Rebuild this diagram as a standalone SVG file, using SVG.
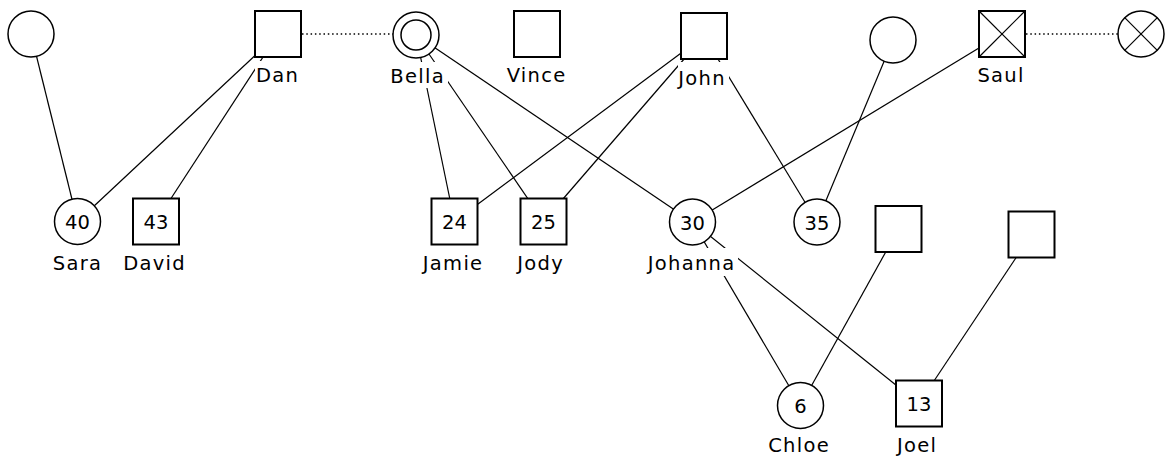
<svg xmlns="http://www.w3.org/2000/svg" width="1166" height="457" viewBox="0 0 1166 457">
<style>
.bg{fill:#fff}
.ln{stroke:#000;stroke-width:1.2;fill:none}
.dot{stroke:#000;stroke-width:1.5;stroke-dasharray:1.5 2.8;fill:none}
.sq{fill:#fff;stroke:#000;stroke-width:2}
.ci{fill:#fff;stroke:#000;stroke-width:1.5}
.x{stroke:#000;stroke-width:1.2}
.lb{fill:#fff;stroke:none}
text{font-family:"DejaVu Sans","Liberation Sans",sans-serif;font-size:19.5px;fill:#000;text-anchor:middle}
.lbl{letter-spacing:1.3px}
</style>
<rect class="bg" x="0" y="0" width="1166" height="457"/>
<g id="connectors">
<line class="dot" x1="302" y1="34" x2="393" y2="34"/>
<line class="dot" x1="1026" y1="34" x2="1118" y2="34"/>
<line class="ln" x1="31" y1="34" x2="77.5" y2="221.5"/>
<line class="ln" x1="278" y1="34" x2="77.5" y2="221.5"/>
<line class="ln" x1="278" y1="34" x2="156" y2="221.5"/>
<line class="ln" x1="416" y1="35" x2="454.5" y2="221.5"/>
<line class="ln" x1="416" y1="35" x2="543.5" y2="221.5"/>
<line class="ln" x1="416" y1="35" x2="692.5" y2="222"/>
<line class="ln" x1="704" y1="36" x2="454.5" y2="221.5"/>
<line class="ln" x1="704" y1="36" x2="543.5" y2="221.5"/>
<line class="ln" x1="704" y1="36" x2="817" y2="222"/>
<line class="ln" x1="893" y1="40" x2="817" y2="222"/>
<line class="ln" x1="1002" y1="34" x2="692.5" y2="222"/>
<line class="ln" x1="692.5" y1="222" x2="800.5" y2="405.5"/>
<line class="ln" x1="692.5" y1="222" x2="919" y2="403.5"/>
<line class="ln" x1="898.5" y1="229" x2="800.5" y2="405.5"/>
<line class="ln" x1="1031.5" y1="234.5" x2="919" y2="403.5"/>
</g>
<g id="n-topleft"><circle class="ci" cx="31" cy="34" r="23"/></g>
<g id="n-dan"><rect class="sq" x="255" y="11" width="46" height="46"/><rect class="lb" x="255" y="61" width="45" height="27"/><text class="lbl" x="277.6" y="82">Dan</text></g>
<g id="n-bella"><circle class="ci" cx="416" cy="35" r="23"/><circle class="ci" cx="416" cy="35" r="15"/><rect class="lb" x="391" y="62" width="57" height="26"/><text class="lbl" x="417.6" y="83">Bella</text></g>
<g id="n-vince"><rect class="sq" x="514" y="11" width="46" height="46"/><rect class="lb" x="507" y="61" width="59" height="27"/><text class="lbl" x="536.6" y="82">Vince</text></g>
<g id="n-john"><rect class="sq" x="681" y="13" width="46" height="46"/><rect class="lb" x="678" y="62" width="51" height="27"/><text class="lbl" x="702.1" y="85">John</text></g>
<g id="n-upper35"><circle class="ci" cx="893" cy="40" r="23"/></g>
<g id="n-saul"><rect class="sq" x="979" y="11" width="46" height="46"/><line class="x" x1="979" y1="11" x2="1025" y2="57"/><line class="x" x1="1025" y1="11" x2="979" y2="57"/><rect class="lb" x="976" y="61" width="50" height="27"/><text class="lbl" x="1001.1" y="82">Saul</text></g>
<g id="n-saulpartner"><circle class="ci" cx="1141" cy="34" r="23"/><line class="x" x1="1124.7" y1="17.7" x2="1157.3" y2="50.3"/><line class="x" x1="1157.3" y1="17.7" x2="1124.7" y2="50.3"/></g>
<g id="n-sara"><circle class="ci" cx="77.5" cy="221.5" r="23"/><text x="77.5" y="229">40</text><text class="lbl" x="77.6" y="270">Sara</text></g>
<g id="n-david"><rect class="sq" x="133" y="198.5" width="46" height="46"/><text x="156" y="229">43</text><text class="lbl" x="154.6" y="270">David</text></g>
<g id="n-jamie"><rect class="sq" x="431.5" y="198.5" width="46" height="46"/><text x="454.5" y="229">24</text><text class="lbl" x="453.1" y="270">Jamie</text></g>
<g id="n-jody"><rect class="sq" x="520.5" y="198.5" width="46" height="46"/><text x="543.5" y="229">25</text><text class="lbl" x="540.6" y="270">Jody</text></g>
<g id="n-johanna"><circle class="ci" cx="692.5" cy="222" r="23"/><text x="692.5" y="229.5">30</text><rect class="lb" x="645" y="248" width="93" height="28"/><text class="lbl" x="691.6" y="270">Johanna</text></g>
<g id="n-35"><circle class="ci" cx="817" cy="222" r="23"/><text x="817" y="229.5">35</text></g>
<g id="n-sqA"><rect class="sq" x="875.5" y="206" width="46" height="46"/></g>
<g id="n-sqB"><rect class="sq" x="1008.5" y="211.5" width="46" height="46"/></g>
<g id="n-chloe"><circle class="ci" cx="800.5" cy="405.5" r="23"/><text x="800.5" y="413">6</text><text class="lbl" x="799.1" y="452">Chloe</text></g>
<g id="n-joel"><rect class="sq" x="896" y="380.5" width="46" height="46"/><text x="919" y="411">13</text><text class="lbl" x="917.1" y="452">Joel</text></g>
</svg>
